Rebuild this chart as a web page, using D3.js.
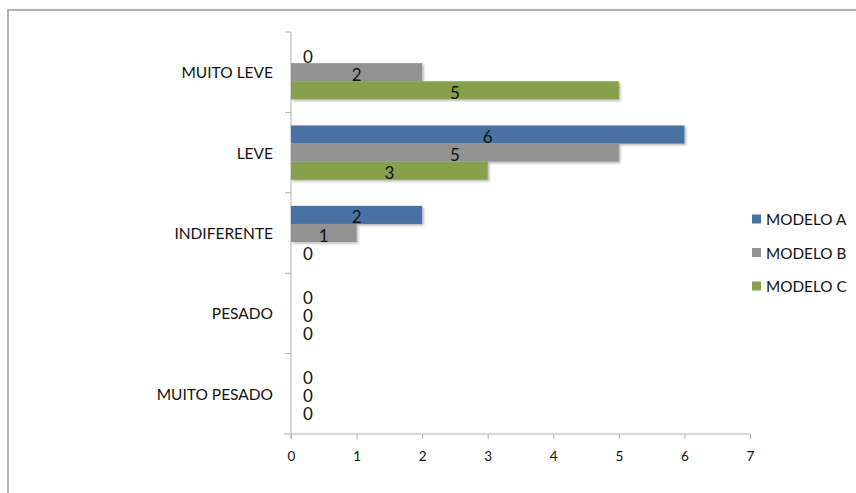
<!DOCTYPE html>
<html>
<head>
<meta charset="utf-8">
<script src="https://cdn.jsdelivr.net/npm/d3@7/dist/d3.min.js"></script>
<style>
  html, body { margin: 0; padding: 0; background: #fff; }
  svg { display: block; }
  text { font-family: Lato, "Open Sans", "Liberation Sans", sans-serif; fill: #111; }
</style>
</head>
<body>
<svg id="chart" width="856" height="493"></svg>
<script>
// Responses per rating category for each model
const categories = ["MUITO LEVE", "LEVE", "INDIFERENTE", "PESADO", "MUITO PESADO"];
const seriesNames = ["MODELO A", "MODELO B", "MODELO C"];
const modeloA = [0, 6, 2, 0, 0];
const modeloB = [2, 5, 1, 0, 0];
const modeloC = [5, 3, 0, 0, 0];
const xTicks = [0, 1, 2, 3, 4, 5, 6, 7];
const colors = ["#4672a3", "#929292", "#86a04b"];

const seriesValues = [modeloA, modeloB, modeloC];

const svg = d3.select("#chart");

// outer frame
svg.append("path")
  .attr("d", "M8,500 L8,10 L860,10")
  .attr("fill", "none")
  .attr("stroke", "#b3b3b3")
  .attr("stroke-width", 2);

const defs = svg.append("defs");
const f = defs.append("filter").attr("id", "shadow")
  .attr("x", "-5%").attr("y", "-30%").attr("width", "115%").attr("height", "170%");
f.append("feDropShadow").attr("dx", 1.5).attr("dy", 1.5).attr("stdDeviation", 1.2)
  .attr("flood-color", "#000").attr("flood-opacity", 0.3);

const plotLeft = 291, plotRight = 750, plotTop = 32, plotBottom = 434;

const x = d3.scaleLinear().domain([0, 7]).range([plotLeft, plotRight]);
const y = d3.scaleBand().domain(categories).range([plotTop, plotBottom]).paddingInner(0.325).paddingOuter(0.1625);
const inner = d3.scaleBand().domain(seriesNames).range([0, y.bandwidth()]);

// x axis
const xAxis = svg.append("g").attr("transform", `translate(0,${plotBottom})`)
  .call(d3.axisBottom(x).tickValues(xTicks).tickFormat(d3.format("d")).tickSize(5).tickPadding(12));
xAxis.select(".domain").attr("stroke", "#b0b0b0").attr("d", `M${plotLeft - 7},0H${plotRight}`);
xAxis.selectAll(".tick line").attr("stroke", "#b0b0b0");
xAxis.selectAll(".tick text").attr("font-size", 13.5).style("font-family", "Lato, 'Open Sans', sans-serif").attr("fill", "#222");

// y axis line and category separators
const yAxisG = svg.append("g");
yAxisG.append("line").attr("x1", plotLeft).attr("x2", plotLeft).attr("y1", plotTop).attr("y2", plotBottom + 5)
  .attr("stroke", "#b0b0b0");
const sepYs = [plotTop].concat(categories.map(c => y(c) + y.bandwidth() + y.step() * y.paddingInner() / 2).slice(0, -1));
yAxisG.selectAll("line.sep").data(sepYs).join("line")
  .attr("class", "sep")
  .attr("x1", plotLeft - 6).attr("x2", plotLeft)
  .attr("y1", d => d).attr("y2", d => d)
  .attr("stroke", "#b0b0b0");

// category labels
svg.selectAll("text.cat").data(categories).join("text")
  .attr("class", "cat")
  .attr("x", 273)
  .attr("y", c => y(c) + y.bandwidth() / 2)
  .attr("text-anchor", "end")
  .attr("dominant-baseline", "central")
  .attr("font-size", 15.5)
  .text(c => c);

// bars
const rows = [];
categories.forEach((c, i) => {
  seriesNames.forEach((s, j) => {
    rows.push({ cat: c, series: s, value: seriesValues[j][i], color: colors[j] });
  });
});

svg.append("g").selectAll("rect").data(rows.filter(d => d.value > 0)).join("rect")
  .attr("x", x(0))
  .attr("y", d => y(d.cat) + inner(d.series))
  .attr("width", d => x(d.value) - x(0))
  .attr("height", inner.bandwidth())
  .attr("fill", d => d.color)
  .attr("filter", "url(#shadow)");

// value labels
svg.append("g").selectAll("text").data(rows).join("text")
  .attr("x", d => d.value > 0 ? (x(d.value) + x(0)) / 2 : x(0) + 17)
  .attr("y", d => y(d.cat) + inner(d.series) + inner.bandwidth() / 2 + 2)
  .attr("text-anchor", "middle")
  .attr("dominant-baseline", "central")
  .attr("font-size", 17)
  .text(d => d.value);

// legend
const legend = svg.append("g").attr("transform", "translate(752,219)");
seriesNames.forEach((s, j) => {
  const g = legend.append("g").attr("transform", `translate(0,${j * 33.5})`);
  g.append("rect").attr("x", 0).attr("y", -4.5).attr("width", 9).attr("height", 9).attr("fill", colors[j]);
  g.append("text").attr("x", 14).attr("y", 0).attr("dominant-baseline", "central")
    .attr("font-size", 15.3).text(s);
});
</script>
</body>
</html>
